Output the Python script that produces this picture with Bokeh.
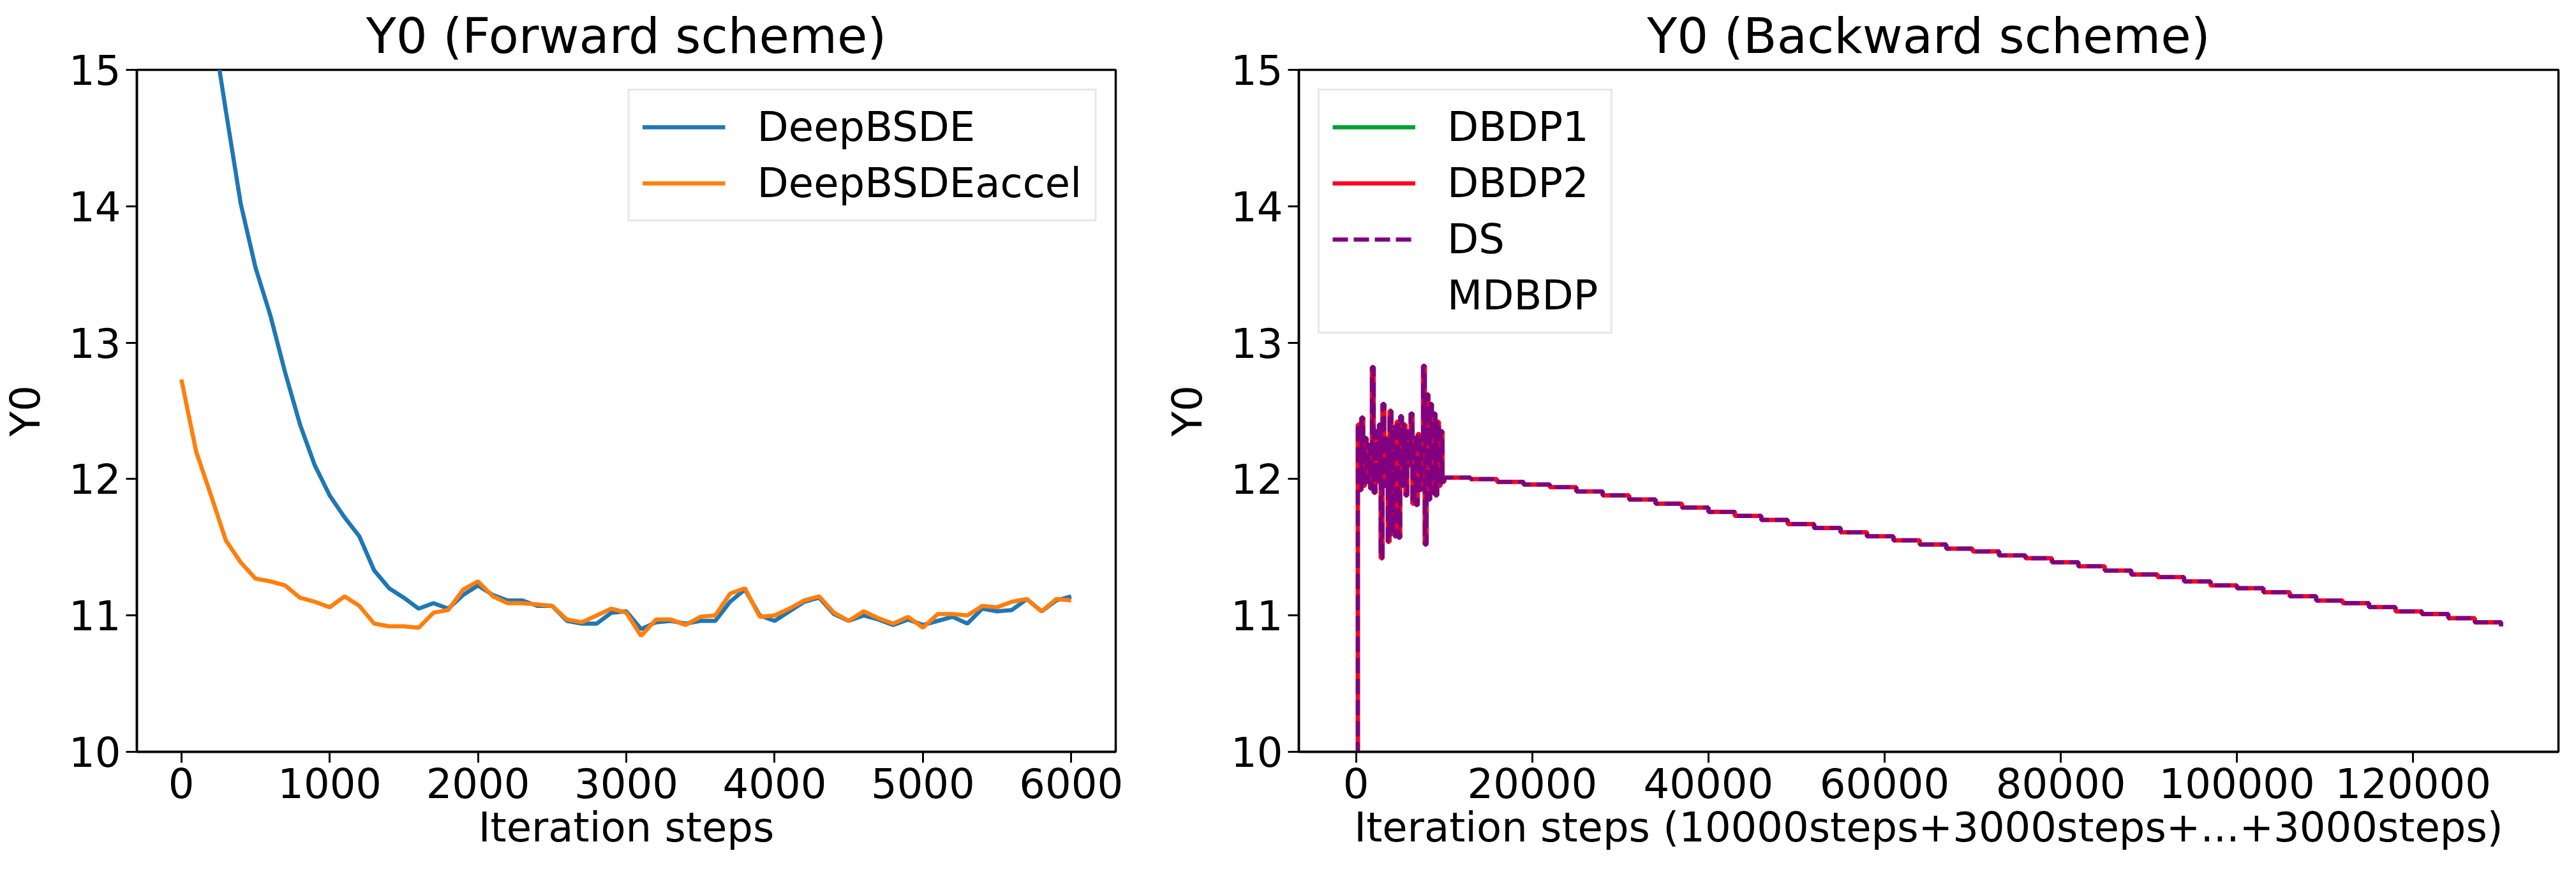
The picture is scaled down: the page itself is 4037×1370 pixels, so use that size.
import numpy as np
from bokeh.plotting import figure
from bokeh.layouts import row
from bokeh.models import Range1d, FixedTicker, BasicTickFormatter
from bokeh.embed import file_html
from bokeh.resources import INLINE

FONT = "DejaVu Sans"

# Forward scheme: Y0 every 100 iteration steps
fwd_steps = list(range(0, 6001, 100))
deepbsde = [17.6, 16.7, 15.4, 14.7, 14.02, 13.55, 13.2, 12.78, 12.4, 12.1,
            11.88, 11.72, 11.58, 11.33, 11.2, 11.13, 11.05, 11.09, 11.05, 11.15,
            11.22, 11.15, 11.11, 11.11, 11.07, 11.07, 10.96, 10.94, 10.94, 11.02,
            11.03, 10.9, 10.95, 10.96, 10.94, 10.96, 10.96, 11.1, 11.19, 11.0,
            10.96, 11.03, 11.1, 11.13, 11.01, 10.96, 11.0, 10.97, 10.93, 10.97,
            10.93, 10.96, 10.99, 10.94, 11.05, 11.03, 11.04, 11.12, 11.03, 11.11,
            11.14]
deepbsde_accel = [12.73, 12.2, 11.88, 11.55, 11.39, 11.27, 11.25, 11.22, 11.13, 11.1,
                  11.06, 11.14, 11.07, 10.94, 10.92, 10.92, 10.91, 11.02, 11.04, 11.19,
                  11.25, 11.14, 11.09, 11.09, 11.08, 11.07, 10.97, 10.95, 11.0, 11.05,
                  11.02, 10.85, 10.97, 10.97, 10.93, 10.99, 11.0, 11.16, 11.2, 10.99,
                  11.0, 11.05, 11.11, 11.14, 11.02, 10.96, 11.03, 10.98, 10.94, 10.99,
                  10.91, 11.01, 11.01, 11.0, 11.07, 11.06, 11.1, 11.12, 11.03, 11.12,
                  11.11]

# Backward scheme: first 10000 steps (noisy), then 3000-step stages
noise_steps = list(range(0, 10000, 200))
noise_y0 = [9.2, 12.40, 11.92, 12.45, 11.95, 12.30, 11.98, 12.25, 11.93, 12.82,
            11.90, 12.35, 11.98, 12.40, 11.42, 12.55, 11.95, 12.30, 11.54, 12.50,
            11.60, 12.38, 11.58, 12.42, 11.57, 12.46, 11.95, 12.40, 11.88, 12.35,
            12.10, 12.48, 11.82, 12.30, 11.81, 12.33, 11.92, 12.20, 12.83, 11.52,
            12.62, 11.85, 12.55, 11.90, 12.48, 11.88, 12.42, 11.95, 12.35, 11.98]
stage_steps = list(range(10000, 130001, 3000))
stage_y0 = [12.01, 12.00, 11.98, 11.96, 11.94, 11.91, 11.88, 11.85, 11.82, 11.79,
            11.76, 11.73, 11.70, 11.67, 11.64, 11.61, 11.58, 11.55, 11.52, 11.49,
            11.47, 11.44, 11.42, 11.39, 11.36, 11.33, 11.30, 11.28, 11.25, 11.22,
            11.20, 11.17, 11.14, 11.11, 11.09, 11.06, 11.03, 11.01, 10.98, 10.95,
            10.92]

bwd_steps = noise_steps + stage_steps
dbdp1 = noise_y0 + stage_y0
dbdp2 = noise_y0 + stage_y0
ds = noise_y0 + stage_y0
mdbdp = noise_y0 + stage_y0


def style(p, xticks, xlabel):
    p.title.text_font = FONT
    p.title.text_font_size = "77px"
    p.title.text_font_style = "normal"
    p.title.text_color = "black"
    p.title.align = "center"
    p.title.standoff = 18
    p.outline_line_color = "black"
    p.outline_line_width = 3.5
    p.outline_line_alpha = 1
    p.xgrid.visible = False
    p.ygrid.visible = False
    p.y_range = Range1d(10, 15)
    p.xaxis.ticker = FixedTicker(ticks=xticks)
    p.xaxis.formatter = BasicTickFormatter(use_scientific=False)
    p.yaxis.ticker = FixedTicker(ticks=[10, 11, 12, 13, 14, 15])
    p.xaxis.axis_label = xlabel
    p.yaxis.axis_label = "Y0"
    for ax in (p.xaxis, p.yaxis):
        ax.axis_label_text_font = FONT
        ax.axis_label_text_font_size = "64px"
        ax.axis_label_text_font_style = "normal"
        ax.axis_label_text_color = "black"
        ax.major_label_text_font = FONT
        ax.major_label_text_font_size = "64px"
        ax.major_label_text_color = "black"
        ax.major_label_standoff = 8
        ax.axis_line_width = 3.5
        ax.axis_line_color = "black"
        ax.major_tick_line_width = 3
        ax.major_tick_line_color = "black"
        ax.major_tick_out = 17
        ax.major_tick_in = 0
        ax.minor_tick_line_color = None
    p.xaxis.axis_label_standoff = 6
    p.yaxis.axis_label_standoff = 28


def style_legend(p, loc):
    lg = p.legend[0]
    lg.location = loc
    lg.margin = 30
    lg.padding = 20
    lg.spacing = 14
    lg.label_text_font = FONT
    lg.label_text_font_size = "64px"
    lg.label_text_color = "black"
    lg.label_height = 72
    lg.glyph_height = 72
    lg.glyph_width = 130
    lg.label_standoff = 50
    lg.border_line_color = "#d0d0d0"
    lg.border_line_width = 3
    lg.background_fill_alpha = 0.8


p1 = figure(frame_width=1534, frame_height=1069, min_border_left=205, min_border_right=61,
            min_border_top=104, min_border_bottom=170, title="Y0 (Forward scheme)",
            x_range=Range1d(-300, 6300), output_backend="svg", toolbar_location=None)
p1.line(fwd_steps, deepbsde, color="#1f77b4", line_width=6.5, legend_label="DeepBSDE")
p1.line(fwd_steps, deepbsde_accel, color="#ff7f0e", line_width=6.5, legend_label="DeepBSDEaccel")
style(p1, [0, 1000, 2000, 3000, 4000, 5000, 6000], "Iteration steps")
style_legend(p1, "top_right")

p2 = figure(frame_width=1974, frame_height=1069, min_border_left=226, min_border_right=13,
            min_border_top=104, min_border_bottom=170, title="Y0 (Backward scheme)",
            x_range=Range1d(-6500, 136500), output_backend="svg", toolbar_location=None)
p2.step(bwd_steps, dbdp1, mode="after", color="#00a030", line_width=6.5, legend_label="DBDP1")
p2.step(bwd_steps, dbdp2, mode="after", color="#ff0020", line_width=6.5, legend_label="DBDP2")
p2.step(bwd_steps, ds, mode="after", color="#800080", line_width=6.5, line_dash="24 9",
        legend_label="DS")
p2.step(bwd_steps, mdbdp, mode="after", color="white", line_alpha=0, line_width=6.5,
        legend_label="MDBDP")
style(p2, [0, 20000, 40000, 60000, 80000, 100000, 120000],
      "Iteration steps (10000steps+3000steps+...+3000steps)")
style_legend(p2, "top_left")

layout = row(p1, p2)
open("out.html", "w").write(file_html(layout, INLINE))
